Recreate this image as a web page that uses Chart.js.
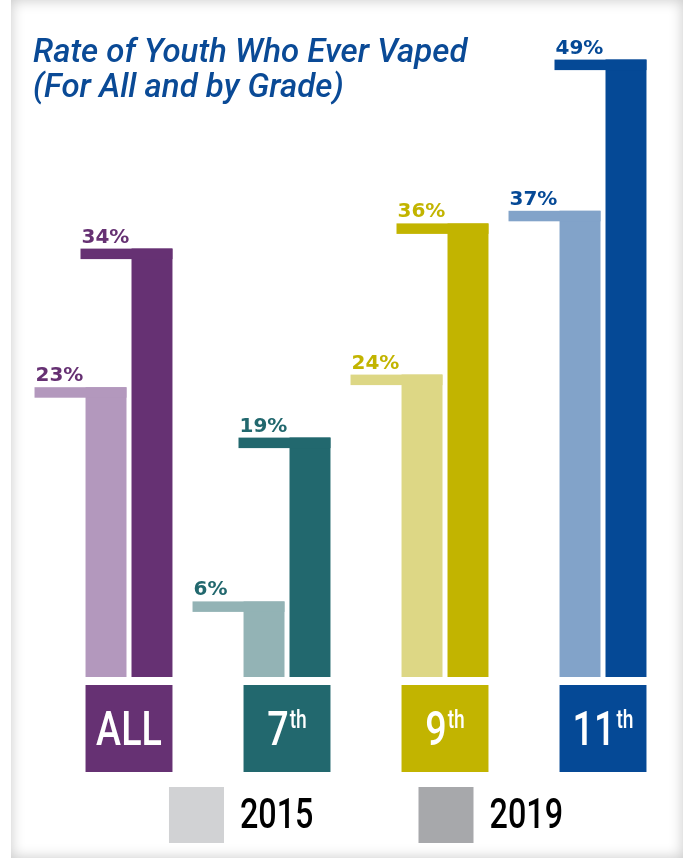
<!DOCTYPE html>
<html>
<head>
<meta charset="utf-8">
<script src="https://cdn.jsdelivr.net/npm/chart.js@4.4.1/dist/chart.umd.min.js"></script>
<style>
  html, body { margin: 0; padding: 0; background: #fff; }
  #frame {
    position: absolute; left: 11px; top: 0; width: 672px; height: 858px;
    background: #fff;
    box-shadow: inset 0 0 14px rgba(0, 0, 0, 0.22);
  }
  #chartWrap { position: absolute; left: 0; top: 0; width: 683px; height: 864px; }
</style>
</head>
<body>
<div id="frame"></div>
<div id="chartWrap"><canvas id="vapeChart" width="683" height="864"></canvas></div>
<script>
const categories = ["ALL", "7", "9", "11"];
const suffixes = ["", "th", "th", "th"];
const years = ["2015", "2019"];
const rate2015 = [23, 6, 24, 37];
const rate2019 = [34, 19, 36, 49];

const lightColors = ["#b398bd", "#93b3b5", "#ddd785", "#82a3c9"];
const darkColors = ["#663173", "#22686e", "#c2b400", "#054996"];
const legendColors = ["#d1d2d4", "#a7a8ab"];

// no condensed face installed, so squeeze Roboto horizontally
const SQUEEZE = 0.77;
function condensedWidth(ctx, text, font) {
  ctx.font = font;
  return ctx.measureText(text).width * SQUEEZE;
}
function drawCondensed(ctx, text, x, y, font) {
  ctx.save();
  ctx.translate(x, y);
  ctx.scale(SQUEEZE, 1);
  ctx.font = font;
  ctx.textAlign = 'left';
  ctx.fillText(text, 0, 0);
  ctx.restore();
}

// flags, value labels, grade boxes, title and legend
const decorPlugin = {
  id: 'decor',
  afterDatasetsDraw(chart) {
    const ctx = chart.ctx;
    const flagW = 51, flagH = 10.5;
    ctx.save();
    chart.data.datasets.forEach((ds, di) => {
      const meta = chart.getDatasetMeta(di);
      meta.data.forEach((bar, i) => {
        const left = bar.x - bar.width / 2;
        ctx.fillStyle = ds.backgroundColor[i];
        ctx.fillRect(left - flagW, bar.y, flagW + bar.width, flagH);
        ctx.fillStyle = darkColors[i];
        ctx.font = "bold 20px 'DejaVu Sans', sans-serif";
        ctx.textAlign = 'left';
        ctx.textBaseline = 'alphabetic';
        ctx.fillText(ds.data[i] + '%', left - flagW + 1, bar.y - 6);
      });
    });

    // grade boxes under each pair
    const m0 = chart.getDatasetMeta(0), m1 = chart.getDatasetMeta(1);
    const mainFont = '500 49px Roboto, sans-serif';
    const supFont = '500 25px Roboto, sans-serif';
    m0.data.forEach((b0, i) => {
      const b1 = m1.data[i];
      const l = b0.x - b0.width / 2, r = b1.x + b1.width / 2;
      const top = b0.base + 8, bottom = b0.base + 95;
      ctx.fillStyle = darkColors[i];
      ctx.fillRect(l, top, r - l, bottom - top);

      ctx.fillStyle = '#fff';
      const wMain = condensedWidth(ctx, categories[i], mainFont);
      const wSup = suffixes[i] ? condensedWidth(ctx, suffixes[i], supFont) + 1 : 0;
      const startX = (l + r) / 2 - (wMain + wSup) / 2;
      const baseY = top + 60;
      drawCondensed(ctx, categories[i], startX, baseY, mainFont);
      if (suffixes[i]) drawCondensed(ctx, suffixes[i], startX + wMain + 1, baseY - 17, supFont);
    });
    ctx.restore();
  },
  afterDraw(chart) {
    const ctx = chart.ctx;
    const area = chart.chartArea;
    ctx.save();
    // title
    ctx.fillStyle = '#0a4a96';
    ctx.font = "italic 500 33px Roboto, 'Liberation Sans', sans-serif";
    ctx.textAlign = 'left';
    ctx.fillText('Rate of Youth Who Ever Vaped', 33, 62);
    ctx.fillText('(For All and by Grade)', 33, 97);

    // legend
    const box = 55, gap = 16, between = 105;
    const legFont = '500 42px Roboto, sans-serif';
    const widths = years.map(y => box + gap + condensedWidth(ctx, y, legFont));
    const total = widths[0] + widths[1] + between;
    let x = (area.left + area.right) / 2 - total / 2;
    years.forEach((y, k) => {
      ctx.fillStyle = legendColors[k];
      ctx.fillRect(x, 787, box, 56);
      ctx.fillStyle = '#000';
      drawCondensed(ctx, y, x + box + gap, 828, legFont);
      x += widths[k] + between;
    });
    ctx.restore();
  }
};

const ctx = document.getElementById('vapeChart').getContext('2d');
const vapeChart = new Chart(ctx, {
  type: 'bar',
  data: {
    labels: categories,
    datasets: [
      { label: years[0], data: rate2015, backgroundColor: lightColors },
      { label: years[1], data: rate2019, backgroundColor: darkColors }
    ]
  },
  options: {
    responsive: false,
    animation: false,
    categoryPercentage: 0.582,
    barPercentage: 0.891,
    layout: { padding: { left: 50, right: 1, top: 47, bottom: 187 } },
    scales: {
      x: { display: false },
      y: { display: false, min: 0, max: 50 }
    },
    plugins: {
      legend: { display: false },
      tooltip: { enabled: false }
    }
  },
  plugins: [decorPlugin]
});
</script>
</body>
</html>
